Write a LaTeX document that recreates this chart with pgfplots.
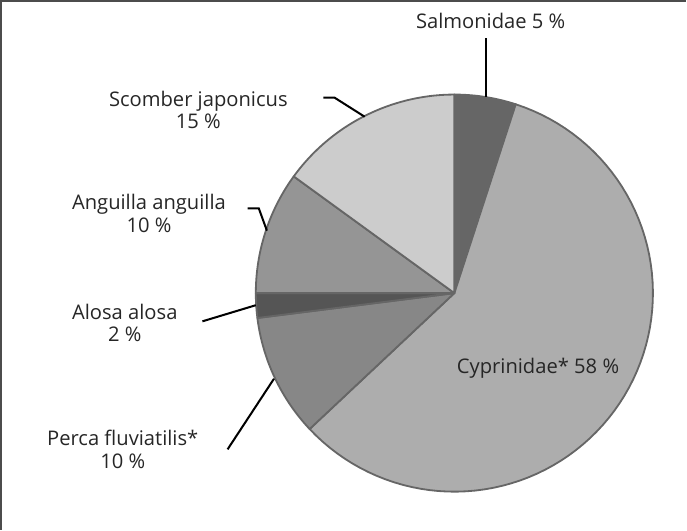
\documentclass[border=0pt]{standalone}
\usepackage{fontspec}
\setmainfont{Open Sans}
\usepackage{pgfplots}
\usepackage{pgfplotstable}
\pgfplotsset{compat=1.18}

\definecolor{edge}{HTML}{666666}
\definecolor{cSal}{HTML}{666666}
\definecolor{cCyp}{HTML}{ADADAD}
\definecolor{cPer}{HTML}{878787}
\definecolor{cAlo}{HTML}{555555}
\definecolor{cAng}{HTML}{959595}
\definecolor{cSco}{HTML}{CCCCCC}
\definecolor{txt}{HTML}{262626}

% share of each group, clockwise from 12 o'clock
\pgfplotstableread{
name pct col
Salmonidae 5 cSal
Cyprinidae 58 cCyp
Perca 10 cPer
Alosa 2 cAlo
Anguilla 10 cAng
Scomber 15 cSco
}\pietable

\tikzset{lbl/.style={font=\fontsize{10}{11}\selectfont, text=txt, align=center}}

\begin{document}
\begin{tikzpicture}
\begin{axis}[
    scale only axis,
    width=343.5pt, height=266.5pt,
    xmin=0, xmax=687, ymin=0, ymax=533,
    y dir=reverse,
    axis lines=none,
    clip=false,
]
% frame
\draw[color=black!70, line width=0.8pt] (axis cs:7,533) -- (axis cs:7,8) -- (axis cs:687,8);

% slices
\def\cum{0}
\pgfplotsforeachungrouped \i in {0,...,5}{%
  \pgfplotstablegetelem{\i}{pct}\of\pietable
  \let\p\pgfplotsretval
  \pgfplotstablegetelem{\i}{col}\of\pietable
  \let\c\pgfplotsretval
  \pgfmathsetmacro\a{90-3.6*\cum}%
  \pgfmathsetmacro\cum{\cum+\p}%
  \pgfmathsetmacro\b{90-3.6*\cum}%
  \edef\temp{\noexpand\addplot[fill=\c, draw=edge, line width=0.9pt, line join=round,
      domain=\b:\a, samples=80]
      ({457+197*cos(x)},{298-197*sin(x)}) -- (axis cs:457,298) -- cycle;}%
  \temp
}

% leader lines
\draw[black, line width=1pt] (axis cs:488,45) -- (axis cs:488,103);
\draw[black, line width=1pt] (axis cs:327,104) -- (axis cs:338,104) -- (axis cs:368,123);
\draw[black, line width=1pt] (axis cs:252,214) -- (axis cs:263,214) -- (axis cs:271,236);
\draw[black, line width=1pt] (axis cs:207,326) -- (axis cs:260,310);
\draw[black, line width=1pt] (axis cs:232,453) -- (axis cs:278,383);

% labels
\node[lbl] at (axis cs:493,28) {Salmonidae 5 \%};
\node[lbl] at (axis cs:203,116) {Scomber japonicus\\15 \%};
\node[lbl] at (axis cs:154,219) {Anguilla anguilla\\10 \%};
\node[lbl] at (axis cs:130,328) {Alosa alosa\\2 \%};
\node[lbl] at (axis cs:128,453) {Perca fluviatilis*\\10 \%};
\node[lbl] at (axis cs:540,373) {Cyprinidae* 58 \%};
\end{axis}
\end{tikzpicture}
\end{document}
